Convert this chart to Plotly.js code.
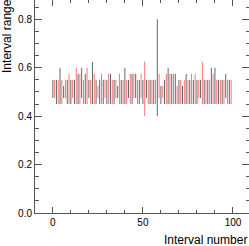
<!DOCTYPE html>
<html>
<head>
<meta charset="utf-8">
<script src="https://cdn.plot.ly/plotly-3.0.1.min.js"></script>
<style>html,body{margin:0;padding:0;background:#fff;}#chart{width:249px;height:246px;}</style>
</head>
<body>
<div id="chart"></div>
<script>
// Interval lower and upper bounds for interval numbers 0..99
const lowerBounds = [
  0.475,0.475,0.45,0.45,0.45,0.45,0.475,0.475,0.45,0.45,
  0.45,0.475,0.45,0.45,0.45,0.45,0.475,0.45,0.45,0.45,
  0.475,0.45,0.45,0.45,0.45,0.475,0.45,0.45,0.45,0.475,
  0.45,0.45,0.45,0.45,0.45,0.475,0.475,0.45,0.45,0.45,
  0.45,0.45,0.475,0.45,0.45,0.475,0.475,0.45,0.45,0.475,
  0.45,0.40,0.475,0.45,0.45,0.45,0.45,0.45,0.40,0.475,
  0.45,0.475,0.45,0.45,0.45,0.45,0.45,0.45,0.45,0.45,
  0.45,0.45,0.45,0.45,0.45,0.45,0.45,0.45,0.45,0.45,
  0.45,0.475,0.475,0.45,0.45,0.45,0.45,0.45,0.45,0.45,
  0.45,0.45,0.45,0.45,0.45,0.45,0.475,0.45,0.45,0.45
];
const upperBounds = [
  0.55,0.55,0.55,0.55,0.60,0.55,0.525,0.55,0.55,0.575,
  0.55,0.55,0.55,0.60,0.575,0.575,0.60,0.55,0.575,0.60,
  0.55,0.55,0.625,0.575,0.55,0.525,0.55,0.575,0.55,0.55,
  0.55,0.575,0.575,0.55,0.55,0.55,0.525,0.575,0.55,0.55,
  0.60,0.55,0.55,0.575,0.575,0.575,0.575,0.55,0.55,0.575,
  0.55,0.625,0.55,0.55,0.55,0.55,0.55,0.55,0.80,0.575,
  0.525,0.525,0.55,0.575,0.60,0.575,0.575,0.575,0.575,0.525,
  0.55,0.55,0.525,0.55,0.575,0.55,0.55,0.575,0.55,0.575,
  0.55,0.55,0.55,0.625,0.55,0.55,0.55,0.55,0.60,0.575,
  0.60,0.55,0.55,0.55,0.55,0.55,0.575,0.55,0.55,0.55
];
const xTickValues = [0, 50, 100];
const yTickValues = [0.0, 0.2, 0.4, 0.6, 0.8];
const yTickLabels = ["0.0", "0.2", "0.4", "0.6", "0.8"];

function segments(parity) {
  const xs = [], ys = [];
  for (let i = 0; i < lowerBounds.length; i++) {
    if (i % 2 !== parity) continue;
    xs.push(i, i, null);
    ys.push(lowerBounds[i], upperBounds[i], null);
  }
  return {xs, ys};
}
const even = segments(0), odd = segments(1);

const font = {family: "Liberation Sans, Arial, sans-serif", color: "#000"};
const traces = [
  {x: even.xs, y: even.ys, type: "scatter", mode: "lines",
   line: {color: "rgba(0,0,0,0.6)", width: 1}, hoverinfo: "skip", showlegend: false},
  {x: odd.xs, y: odd.ys, type: "scatter", mode: "lines",
   line: {color: "rgba(255,0,0,0.55)", width: 1}, hoverinfo: "skip", showlegend: false}
];
const axisCommon = {
  showgrid: false, zeroline: false, showline: true, mirror: "ticks",
  linecolor: "#555", linewidth: 1, ticks: "inside", tickcolor: "#555",
  tickfont: Object.assign({size: 10}, font)
};
const layout = {
  width: 249, height: 246,
  margin: {l: 35, r: 0, t: 0, b: 33},
  paper_bgcolor: "#fff", plot_bgcolor: "#fff",
  showlegend: false,
  xaxis: Object.assign({}, axisCommon, {
    range: [-9.9, 108.9], tickvals: xTickValues, ticklen: 6,
    minor: {dtick: 10, ticks: "inside", ticklen: 3, tickcolor: "#555"}
  }),
  yaxis: Object.assign({}, axisCommon, {
    range: [0, 0.88], tickvals: yTickValues, ticktext: yTickLabels, ticklen: 7,
    minor: {dtick: 0.05, ticks: "inside", ticklen: 3.5, tickcolor: "#555"}
  }),
  annotations: [
    {text: "Interval range", xref: "paper", yref: "paper", x: -0.131, y: 0.831,
     xanchor: "center", yanchor: "middle", textangle: -90, showarrow: false,
     font: Object.assign({size: 12}, font)},
    {text: "Interval number", xref: "paper", yref: "paper", x: 1, y: -0.127,
     xanchor: "right", yanchor: "middle", showarrow: false,
     font: Object.assign({size: 12}, font)}
  ]
};
Plotly.newPlot("chart", traces, layout, {staticPlot: true, displayModeBar: false});
</script>
</body>
</html>
